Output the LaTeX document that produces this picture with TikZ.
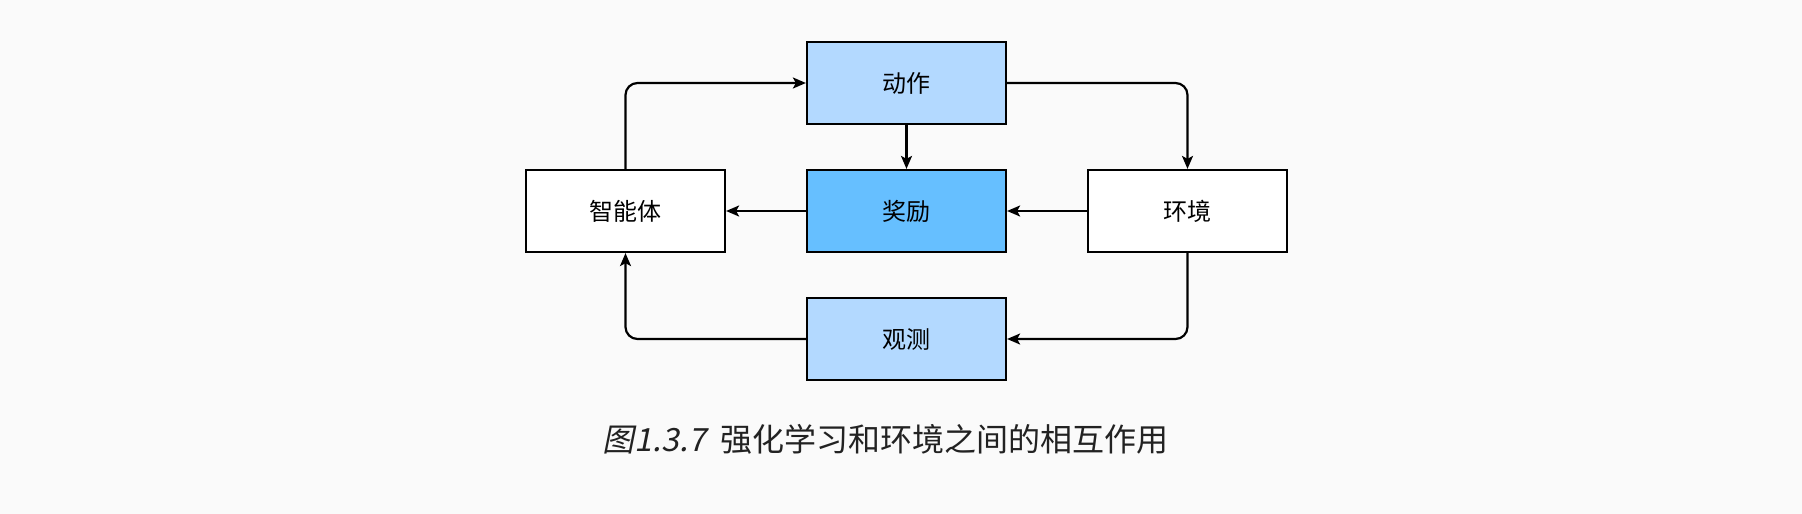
\documentclass[tikz,border=0pt]{standalone}
\usepackage{fontspec}
\setmainfont{Noto Sans CJK SC}
\newfontfamily\capslant[FakeSlant=0.2]{Noto Sans CJK SC}
\usetikzlibrary{arrows.meta}
\definecolor{bgc}{HTML}{FAFAFA}
\definecolor{lightblue}{HTML}{B3D9FF}
\definecolor{midblue}{HTML}{66BFFF}
\definecolor{captc}{HTML}{222222}
\tikzset{
  box/.style={draw=black, line width=2.2pt, minimum width=199pt, minimum height=82pt, inner sep=0pt, font=\fontsize{24}{28}\selectfont},
  conn/.style={draw=black, line width=2.2pt, rounded corners=12pt, -{Stealth[length=13pt,width=11pt,inset=3pt]}}
}
\begin{document}
\begin{tikzpicture}[x=1pt,y=-1pt]
\fill[bgc] (0,0) rectangle (1802,514);
\useasboundingbox (0,0) rectangle (1802,514);
\node[box, fill=white] (agent) at (625.5,211) {智能体};
\node[box, fill=lightblue] (act) at (906.5,83) {动作};
\node[box, fill=midblue] (rew) at (906.5,211) {奖励};
\node[box, fill=white] (env) at (1187.5,211) {环境};
\node[box, fill=lightblue] (obs) at (906.5,339) {观测};
\draw[conn] (agent.north) |- (act.west);
\draw[conn] (act.east) -| (env.north);
\draw[conn] (act.south) -- (rew.north);
\draw[conn] (env.west) -- (rew.east);
\draw[conn] (rew.west) -- (agent.east);
\draw[conn] (env.south) |- (obs.east);
\draw[conn] (obs.west) -| (agent.south);
\node[text=captc, font=\fontsize{32}{38}\selectfont, inner sep=0pt] (cap) at (885.5,439.5) {{\capslant 图1.3.7}\hspace{14pt}强化学习和环境之间的相互作用};
\end{tikzpicture}
\end{document}
